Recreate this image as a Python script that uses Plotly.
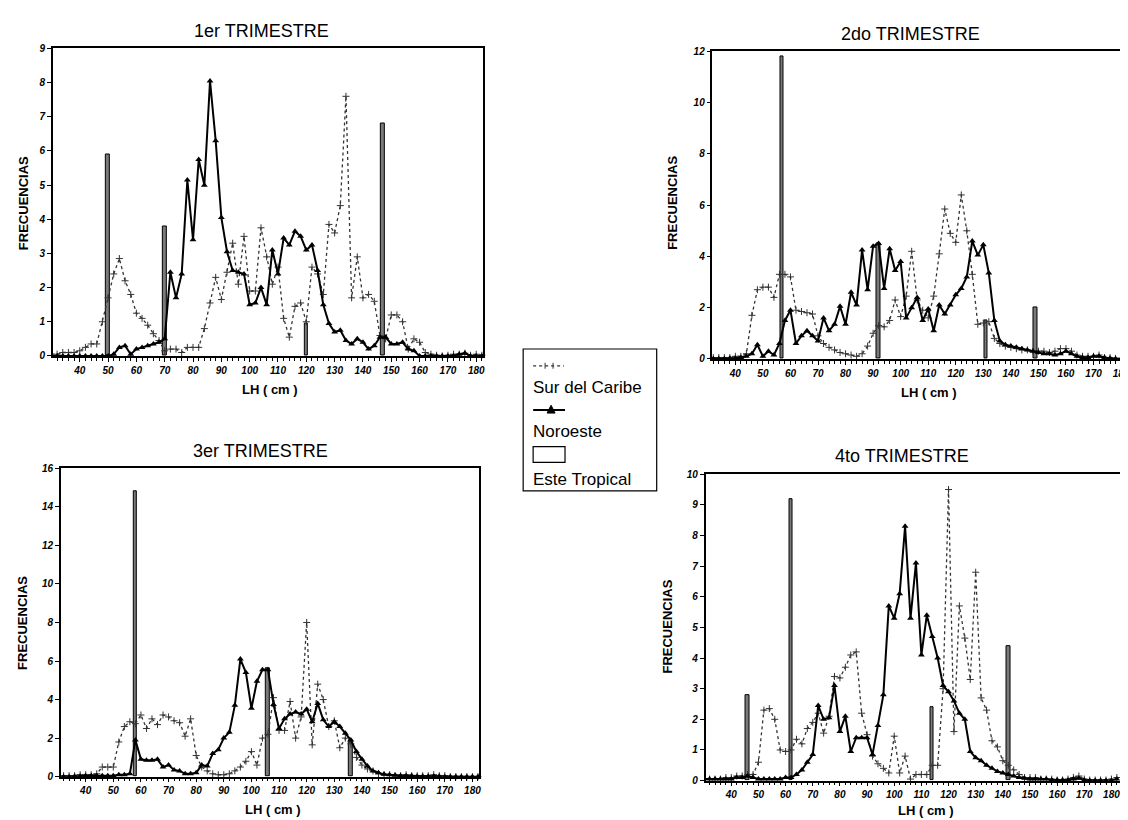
import plotly.graph_objects as go

# ---------------- data ----------------
lh = list(range(30, 184, 2))  # LH (cm) classes, 30..182

# 1er trimestre
sur_t1 = [0.05, 0.05, 0.1, 0.1, 0.1, 0.15, 0.25, 0.35, 0.35, 1.0,
          1.7, 2.4, 2.85, 2.2, 1.8, 1.25, 1.1, 0.9, 0.65, 0.45,
          0.15, 0.2, 0.2, 0.1, 0.25, 0.25, 0.25, 0.8, 1.55, 2.3,
          1.65, 2.45, 3.3, 2.1, 3.5, 1.9, 1.9, 3.75, 2.9, 2.1,
          2.6, 1.1, 0.55, 1.45, 1.55, 1.0, 2.6, 2.4, 1.8, 3.85,
          3.6, 4.4, 7.6, 1.7, 2.9, 1.7, 1.8, 1.6, 0.6, 0.5,
          1.2, 1.2, 1.0, 0.2, 0.5, 0.4, 0.1, 0.05, 0.02, 0.0,
          0.02, 0.05, 0.05, 0.08, 0.02, 0.05, 0.02]
nor_t1 = [0.0, 0.0, 0.0, 0.0, 0.0, 0.0, 0.0, 0.0, 0.0, 0.0,
          0.0, 0.05, 0.25, 0.3, 0.05, 0.2, 0.25, 0.3, 0.35, 0.4,
          0.5, 2.45, 1.7, 2.4, 5.15, 3.4, 5.75, 5.0, 8.05, 6.3,
          4.05, 3.05, 2.5, 2.45, 2.4, 1.5, 1.55, 2.0, 1.5, 3.1,
          2.4, 3.45, 3.25, 3.65, 3.5, 3.1, 3.25, 2.5, 1.5, 0.95,
          0.7, 0.75, 0.45, 0.35, 0.5, 0.4, 0.2, 0.3, 0.55, 0.55,
          0.35, 0.35, 0.4, 0.2, 0.15, 0.0, 0.0, 0.0, 0.0, 0.0,
          0.0, 0.0, 0.05, 0.08, 0.0, 0.0, 0.0]
est_x_t1 = [50, 70, 120, 147]
est_y_t1 = [5.9, 3.8, 0.95, 6.8]

# 2do trimestre
sur_t2 = [0.05, 0.05, 0.05, 0.05, 0.05, 0.1, 0.1, 0.2, 1.7, 2.7,
          2.8, 2.8, 2.4, 3.3, 3.3, 3.2, 1.9, 1.85, 1.8, 1.75,
          0.9, 0.6, 0.45, 0.35, 0.25, 0.2, 0.15, 0.1, 0.2, 0.5,
          1.0, 1.3, 1.25, 1.5, 2.3, 1.65, 2.45, 4.2, 2.3, 1.9,
          1.6, 2.45, 4.1, 5.85, 4.9, 4.55, 6.4, 5.0, 3.3, 1.35,
          1.4, 1.45, 0.8, 0.6, 0.5, 0.45, 0.4, 0.35, 0.35, 0.3,
          0.3, 0.3, 0.25, 0.3, 0.4, 0.4, 0.3, 0.15, 0.1, 0.1,
          0.1, 0.15, 0.05, 0.05, 0.02, 0.0, 0.0]
nor_t2 = [0.0, 0.0, 0.0, 0.0, 0.02, 0.02, 0.05, 0.1, 0.2, 0.55,
          0.1, 0.3, 0.15, 0.6, 1.5, 1.9, 0.6, 0.9, 1.1, 0.9,
          0.7, 1.6, 1.1, 1.35, 2.05, 1.35, 2.6, 2.1, 4.25, 2.7,
          4.4, 4.5, 2.75, 4.3, 3.45, 3.8, 1.6, 2.0, 2.4, 1.5,
          1.95, 1.1, 2.1, 1.75, 2.1, 2.5, 2.75, 3.2, 4.6, 4.05,
          4.45, 3.35, 1.5, 0.7, 0.55, 0.5, 0.45, 0.4, 0.35, 0.3,
          0.25, 0.2, 0.2, 0.15, 0.2, 0.3, 0.2, 0.1, 0.05, 0.05,
          0.1, 0.1, 0.05, 0.02, 0.0, 0.0, 0.0]
est_x_t2 = [57, 92, 131, 149]
est_y_t2 = [11.8, 4.5, 1.5, 2.0]

# 3er trimestre
sur_t3 = [0.05, 0.05, 0.05, 0.05, 0.1, 0.1, 0.1, 0.15, 0.5, 0.5,
          0.5, 1.8, 2.6, 2.85, 2.75, 3.2, 2.5, 3.0, 2.7, 3.2,
          3.1, 2.9, 2.8, 2.1, 3.0, 1.1, 0.5, 0.3, 0.15, 0.1,
          0.1, 0.15, 0.3, 0.5, 0.8, 1.3, 0.6, 2.0, 2.2, 4.1,
          2.4, 2.4, 3.9, 2.0, 3.1, 8.0, 1.65, 4.8, 4.0, 2.6,
          2.9, 1.5, 2.0, 1.7, 1.0, 0.6, 0.4, 0.3, 0.15, 0.1,
          0.1, 0.05, 0.05, 0.1, 0.05, 0.05, 0.05, 0.05, 0.1, 0.05,
          0.05, 0.0, 0.0, 0.0, 0.0, 0.0, 0.0]
nor_t3 = [0.0, 0.0, 0.0, 0.02, 0.02, 0.05, 0.05, 0.05, 0.05, 0.05,
          0.05, 0.1, 0.1, 0.15, 1.9, 0.9, 0.85, 0.85, 0.9, 0.5,
          0.6, 0.35, 0.3, 0.15, 0.15, 0.2, 0.6, 0.55, 1.2, 1.4,
          2.0, 2.3, 3.7, 6.1, 5.4, 3.55, 4.95, 5.55, 5.55, 3.75,
          2.5, 3.0, 3.25, 3.35, 3.25, 3.5, 2.85, 3.8, 2.95, 2.6,
          2.85, 2.6, 2.25, 1.9, 1.3, 0.9, 0.55, 0.3, 0.2, 0.12,
          0.1, 0.08, 0.05, 0.05, 0.05, 0.02, 0.02, 0.02, 0.02, 0.02,
          0.0, 0.0, 0.0, 0.0, 0.0, 0.0, 0.0]
est_x_t3 = [58, 106, 136]
est_y_t3 = [14.8, 5.6, 1.9]

# 4to trimestre
sur_t4 = [0.05, 0.05, 0.05, 0.05, 0.1, 0.1, 0.15, 0.15, 0.2, 0.2,
          0.6, 2.3, 2.35, 2.0, 1.0, 0.95, 1.0, 1.35, 1.2, 1.7,
          1.9, 2.2, 1.55, 2.1, 3.4, 3.35, 3.7, 4.1, 4.2, 2.2,
          1.5, 0.8, 0.55, 0.4, 0.25, 1.45, 0.25, 0.8, 0.05, 0.2,
          0.2, 0.2, 0.5, 0.5, 3.0, 9.5, 1.6, 5.7, 4.65, 3.3,
          6.8, 2.7, 2.3, 1.3, 1.1, 0.65, 0.5, 0.35, 0.2, 0.1,
          0.1, 0.1, 0.05, 0.05, 0.05, 0.02, 0.02, 0.05, 0.1, 0.15,
          0.05, 0.02, 0.02, 0.02, 0.02, 0.05, 0.1]
nor_t4 = [0.05, 0.05, 0.05, 0.05, 0.05, 0.05, 0.1, 0.1, 0.15, 0.1,
          0.05, 0.05, 0.05, 0.05, 0.05, 0.1, 0.1, 0.2, 0.35, 0.6,
          0.85, 2.45, 2.0, 2.05, 3.1, 1.6, 2.1, 0.95, 1.4, 1.4,
          1.4, 0.85, 1.8, 2.8, 5.7, 5.3, 6.1, 8.3, 5.3, 7.1,
          4.1, 5.4, 4.7, 4.0, 3.1, 2.9, 2.6, 2.2, 2.0, 0.95,
          0.75, 0.65, 0.5, 0.4, 0.3, 0.25, 0.2, 0.15, 0.1, 0.08,
          0.05, 0.05, 0.05, 0.05, 0.02, 0.02, 0.02, 0.02, 0.05, 0.08,
          0.02, 0.0, 0.0, 0.0, 0.0, 0.0, 0.05]
est_x_t4 = [46, 62, 114, 142]
est_y_t4 = [2.8, 9.2, 2.4, 4.4]

x_tick_vals = list(range(40, 190, 10))
titles = ["1er TRIMESTRE", "2do TRIMESTRE", "3er TRIMESTRE", "4to TRIMESTRE"]
series_names = ["Sur del Caribe", "Noroeste", "Este Tropical"]

# ---------------- layout helpers ----------------
W, H = 1128, 820
FONT = "Liberation Sans, Arial, sans-serif"


def px_x(x):
    return x / W


def px_y(y):
    return 1 - y / H


panels = [
    dict(box=(45, 477, 35, 347), xr=[30.5, 182.5], ymax=9, dt=1,
         sur=sur_t1, nor=nor_t1, ex=est_x_t1, ey=est_y_t1,
         title_xy=(254, 17), ytit_xy=(15, 192), xtit_xy=(263, 381)),
    dict(box=(707, 1122, 38, 350), xr=[31.7, 181.8], ymax=12, dt=2,
         sur=sur_t2, nor=nor_t2, ex=est_x_t2, ey=est_y_t2,
         title_xy=(906, 20), ytit_xy=(667, 192), xtit_xy=(924, 384)),
    dict(box=(53, 473, 461, 774), xr=[31.0, 182.5], ymax=16, dt=2,
         sur=sur_t3, nor=nor_t3, ex=est_x_t3, ey=est_y_t3,
         title_xy=(253, 443), ytit_xy=(15, 618), xtit_xy=(266, 807)),
    dict(box=(700, 1118, 467, 778), xr=[30.5, 183.9], ymax=10, dt=1,
         sur=sur_t4, nor=nor_t4, ex=est_x_t4, ey=est_y_t4,
         title_xy=(897, 449), ytit_xy=(662, 622), xtit_xy=(921, 808)),
]

fig = go.Figure()
annotations = []
layout_axes = {}

tickfont = dict(family=FONT, size=10, color="black", weight="bold", style="italic")
SUR_COLOR = "#333333"

for i, p in enumerate(panels, start=1):
    sfx = "" if i == 1 else str(i)
    xa, ya = "x" + sfx, "y" + sfx
    x0, x1, yt, yb = p["box"]

    layout_axes["xaxis" + sfx] = dict(
        domain=[px_x(x0), px_x(x1)], range=p["xr"], anchor=ya,
        showline=True, linecolor="black", linewidth=1.5, mirror=True,
        showgrid=False, zeroline=False,
        tickmode="array", tickvals=x_tick_vals, ticklabeloverflow="allow",
        ticks="outside", ticklen=4, tickwidth=1, tickcolor="black",
        tickfont=tickfont,
        minor=dict(tickmode="linear", tick0=30, dtick=2, ticks="outside",
                   ticklen=3, tickwidth=1, tickcolor="black", showgrid=False),
    )
    layout_axes["yaxis" + sfx] = dict(
        domain=[px_y(yb), px_y(yt)], range=[0, p["ymax"]], anchor=xa,
        showline=True, linecolor="black", linewidth=1.5, mirror=True,
        showgrid=False, zeroline=False, ticklabeloverflow="allow",
        tickmode="linear", tick0=0, dtick=p["dt"],
        ticks="outside", ticklen=4, tickwidth=1, tickcolor="black",
        tickfont=tickfont,
    )

    # Este Tropical (bars)
    fig.add_trace(go.Bar(
        x=p["ex"], y=p["ey"], width=1.3, xaxis=xa, yaxis=ya,
        name=series_names[2], showlegend=False,
        marker=dict(color="#7a7a7a", line=dict(color="black", width=1)),
    ))
    # Sur del Caribe (dotted + crosses)
    fig.add_trace(go.Scatter(
        x=lh, y=p["sur"], xaxis=xa, yaxis=ya, mode="lines+markers",
        name=series_names[0], showlegend=False, cliponaxis=False,
        line=dict(color=SUR_COLOR, width=1.3, dash="dot"),
        marker=dict(symbol="cross-thin", size=5, color=SUR_COLOR,
                    line=dict(color=SUR_COLOR, width=1)),
    ))
    # Noroeste (solid + triangles)
    fig.add_trace(go.Scatter(
        x=lh, y=p["nor"], xaxis=xa, yaxis=ya, mode="lines+markers",
        name=series_names[1], showlegend=False, cliponaxis=False,
        line=dict(color="black", width=2),
        marker=dict(symbol="triangle-up", size=6, color="black"),
    ))

    tx, ty = p["title_xy"]
    annotations.append(dict(
        x=px_x(tx), y=px_y(ty), xref="paper", yref="paper", showarrow=False,
        text=titles[i - 1], xanchor="center", yanchor="middle",
        font=dict(family=FONT, size=18, color="black"),
    ))
    yx, yy = p["ytit_xy"]
    annotations.append(dict(
        x=px_x(yx), y=px_y(yy), xref="paper", yref="paper", showarrow=False,
        text="FRECUENCIAS", textangle=-90, xanchor="center", yanchor="middle",
        font=dict(family=FONT, size=13, color="black", weight="bold"),
    ))
    xx, xy = p["xtit_xy"]
    annotations.append(dict(
        x=px_x(xx), y=px_y(xy), xref="paper", yref="paper", showarrow=False,
        text="LH ( cm )", xanchor="center", yanchor="middle",
        font=dict(family=FONT, size=13, color="black", weight="bold"),
    ))

# ---------------- custom legend ----------------
shapes = []
shapes.append(dict(type="rect", xref="paper", yref="paper",
                   x0=px_x(517), x1=px_x(651), y0=px_y(484), y1=px_y(340),
                   line=dict(color="black", width=1.2), fillcolor="white"))
shapes.append(dict(type="line", xref="paper", yref="paper",
                   x0=px_x(527), x1=px_x(558), y0=px_y(357), y1=px_y(357),
                   line=dict(color=SUR_COLOR, width=1.3, dash="dot")))
for cx in (539, 547):
    shapes.append(dict(type="line", xref="paper", yref="paper",
                       x0=px_x(cx), x1=px_x(cx), y0=px_y(354), y1=px_y(360),
                       line=dict(color=SUR_COLOR, width=1)))
shapes.append(dict(type="line", xref="paper", yref="paper",
                   x0=px_x(527), x1=px_x(559), y0=px_y(402), y1=px_y(402),
                   line=dict(color="black", width=2)))
shapes.append(dict(type="path", xref="paper", yref="paper",
                   path="M {a},{b} L {c},{d} L {e},{f} Z".format(
                       a=px_x(541), b=px_y(405), c=px_x(549), d=px_y(405),
                       e=px_x(545), f=px_y(397)),
                   fillcolor="black", line=dict(color="black", width=1)))
shapes.append(dict(type="rect", xref="paper", yref="paper",
                   x0=px_x(527), x1=px_x(559), y0=px_y(455), y1=px_y(439),
                   line=dict(color="black", width=1.2), fillcolor="white"))

for name, ycen in zip(series_names, (379, 424, 472)):
    annotations.append(dict(
        x=px_x(525), y=px_y(ycen), xref="paper", yref="paper", showarrow=False,
        text=name, xanchor="left", yanchor="middle",
        font=dict(family=FONT, size=17, color="black"),
    ))

fig.update_layout(
    width=W, height=H, autosize=False,
    margin=dict(l=0, r=0, t=0, b=0),
    paper_bgcolor="white", plot_bgcolor="white",
    showlegend=False, bargap=0,
    annotations=annotations, shapes=shapes,
    **layout_axes,
)

fig.write_html("out.html")
